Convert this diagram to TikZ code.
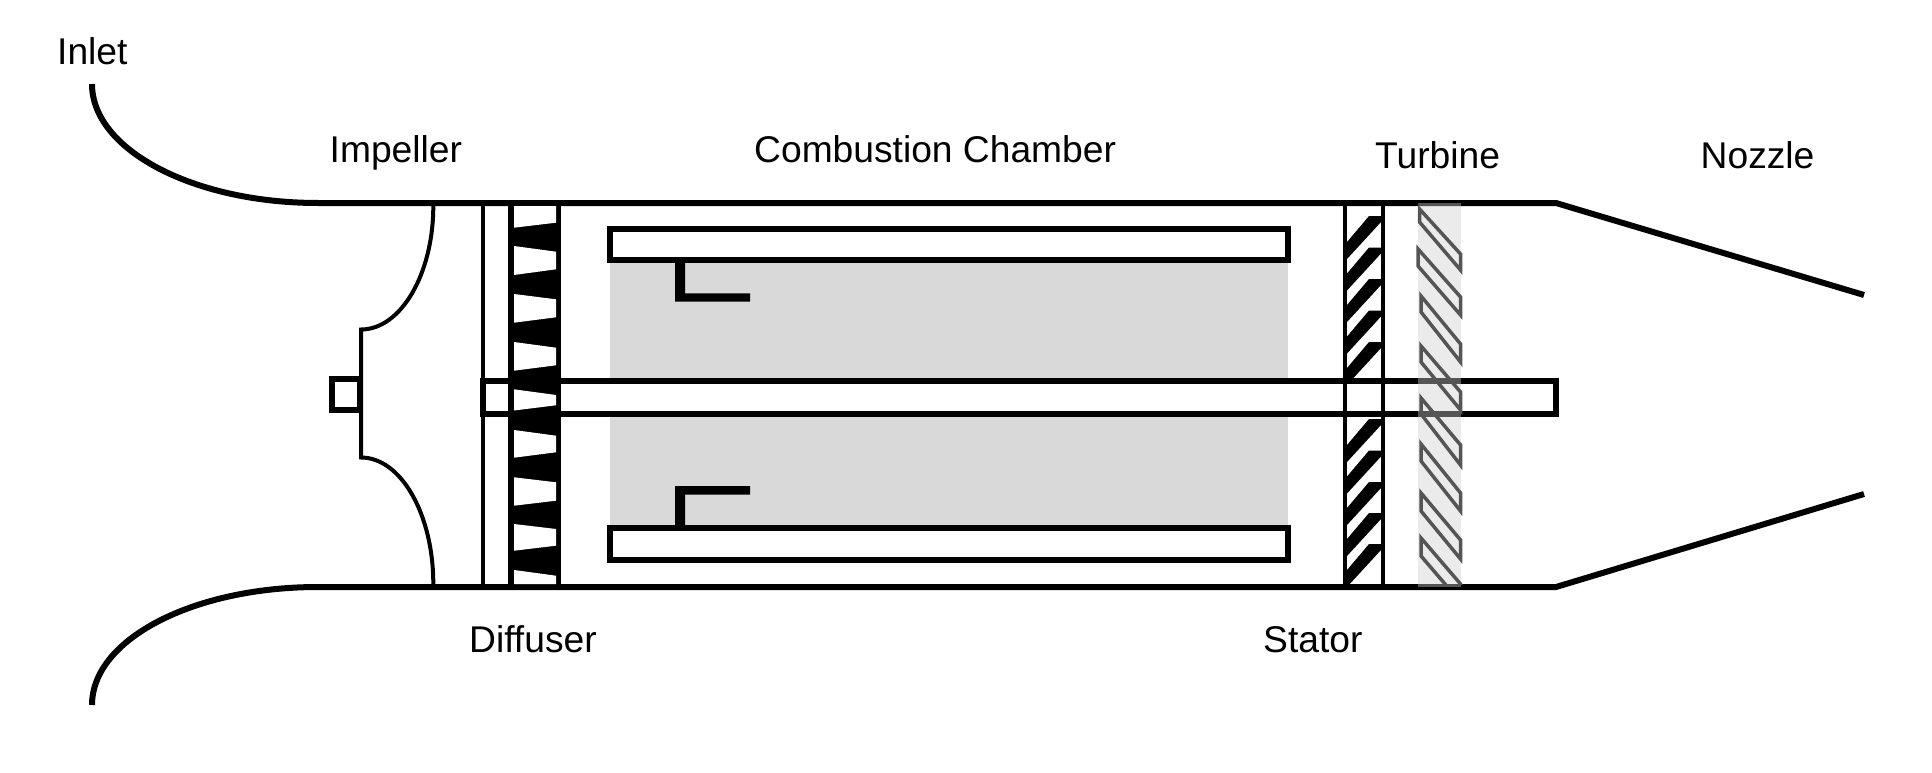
\documentclass[tikz,border=0pt]{standalone}
\usepackage{fontspec}
\setmainfont{Liberation Sans}
\tikzset{
  heavy/.style={draw=black,line width=6pt,line join=miter},
  thin line/.style={draw=black,line width=4pt},
  label text/.style={anchor=base west,inner sep=0pt,font=\fontsize{37.2}{40}\selectfont,text=black},
  hollow blade/.style={draw=turbblade,line width=3.5pt,line join=miter},
}
\definecolor{chamber}{HTML}{D9D9D9}
\definecolor{turbblade}{HTML}{555555}
\definecolor{veil}{RGB}{207,207,207}
\begin{document}
\begin{tikzpicture}[x=1pt,y=-1pt]
\useasboundingbox (0,0) rectangle (1932,773);
% chamber
\fill[chamber] (610,232) rectangle (1288,557);
% liners
\draw[heavy,fill=white] (610,229) rectangle (1288,260);
\draw[heavy,fill=white] (610,528) rectangle (1288,560);
% fuel injectors
\fill[black] (675,263) -- (685,263) -- (685,293.3) -- (750,293.3) -- (750,301.7) -- (675,301.7) -- cycle;
\fill[black] (675,525) -- (685,525) -- (685,494.7) -- (750,494.7) -- (750,486) -- (675,486) -- cycle;
% stator blades
\foreach \t in {216,247.5,279,310.5,342,419,450.5,482,513,544}{
  \fill[black] (1347,\t+26) -- (1369,\t) -- (1381,\t) -- (1381,\t+6) -- (1347,\t+43) -- cycle;
}
% casing
\draw[heavy] (92,84) .. controls (92,149.7) and (193.2,203) .. (318,203) -- (1556,203) -- (1864,295);
\draw[heavy] (92,705) .. controls (92,639.3) and (193.2,587) .. (318,587) -- (1556,587) -- (1864,494);
% impeller
\draw[thin line] (433.3,206) .. controls (433.3,274) and (400.8,329.5) .. (361,329.5) -- (361,457.5) .. controls (400.8,457.5) and (433.3,514) .. (433.3,584);
\draw[heavy] (332,379) rectangle (359.7,410);
% shaft
\draw[heavy,fill=white] (483,381) rectangle (1556,414);
% diffuser
\draw[thin line] (483,203) -- (483,587);
\fill[black] (508.4,203) rectangle (561.4,587);
\foreach \lt/\lb/\rt/\rb in {206/227.7/206/222.7,246/275/251.7/269.3,294/322.7/299.3/317.3,342/370.7/347.7/365.3,389.3/410.5/395/405.3,430/457.7/435.7/452.3,477.3/505.7/482.3/500.7,524/550.7/529/545.7,570/584/575.7/584}{
  \fill[white] (514,\lt) -- (556,\rt) -- (556,\rb) -- (514,\lb) -- cycle;
}
% stator walls
\draw[thin line] (1345,203) -- (1345,587);
\draw[thin line] (1383,203) -- (1383,587);
% turbine
\fill[veil,fill opacity=0.41] (1418,203) rectangle (1461,587);
\begin{scope}
\clip (1415,203) rectangle (1464,584);
\foreach \xl/\lt/\lb/\rt/\rb in {1419.5/209/222/254/270,1418/249/266/297/315,1421/296/312/344/362,1421/346/362/392/410,1421/398/414/445/465,1421/444/461/493/511,1421/493/511/540/559,1421/538/556/584/602}{
  \draw[hollow blade] (\xl,\lt) -- (1460.5,\rt) -- (1460.5,\rb) -- (\xl,\lb) -- cycle;
}
\end{scope}
% labels
\node[label text] (inlet) at (57,65) {Inlet};
\node[label text] (impeller) at (329.5,162) {Impeller};
\node[label text] (combustion) at (754,162) {Combustion Chamber};
\node[label text] (turbine) at (1375,168) {Turbine};
\node[label text] (nozzle) at (1700.5,168) {Nozzle};
\node[label text] (diffuser) at (469,652) {Diffuser};
\node[label text] (stator) at (1263,652) {Stator};
\end{tikzpicture}
\end{document}
